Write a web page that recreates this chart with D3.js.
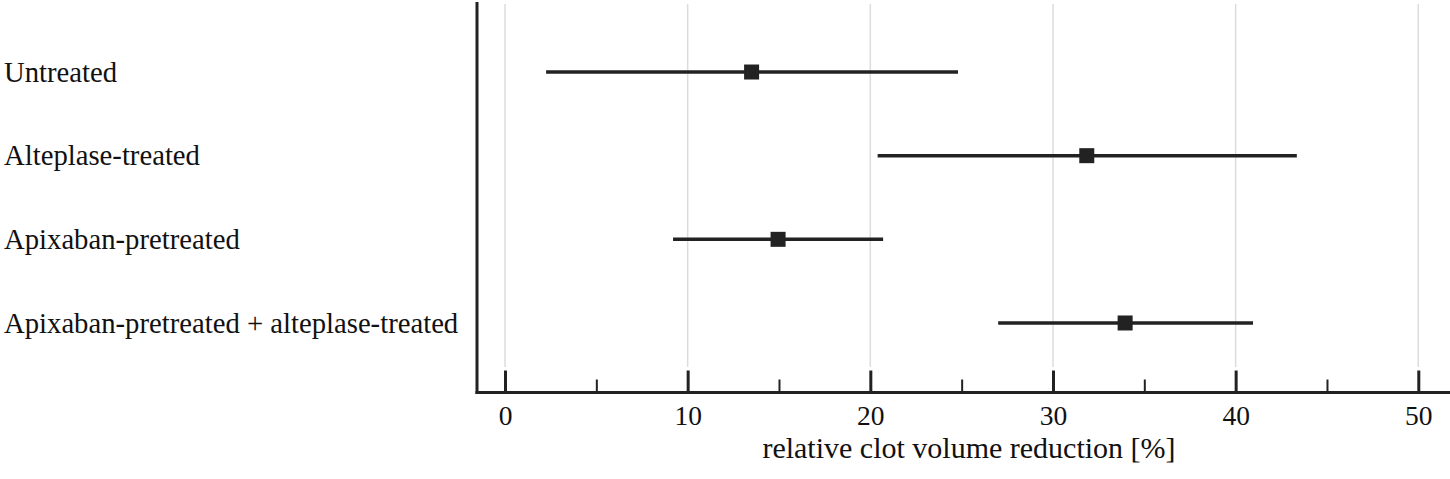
<!DOCTYPE html>
<html>
<head>
<meta charset="utf-8">
<script src="https://cdn.jsdelivr.net/npm/d3@7"></script>
<style>
  html, body { margin: 0; padding: 0; background: #fff; }
  svg { display: block; }
  svg text { font-family: "Liberation Serif", "Times New Roman", Times, "DejaVu Serif", serif; }
</style>
</head>
<body>
<svg id="chart" width="1450" height="479"></svg>
<script>
// Data
const categories = ["Untreated", "Alteplase-treated", "Apixaban-pretreated", "Apixaban-pretreated + alteplase-treated"];
const means = [13.5, 31.85, 14.95, 33.95];
const lows  = [2.25, 20.4, 9.2, 27.0];
const highs = [24.8, 43.35, 20.7, 40.95];
const majorTicks = [0, 10, 20, 30, 40, 50];
const minorTicks = [5, 15, 25, 35, 45];
const xTitle = "relative clot volume reduction [%]";

const serif = "'Liberation Serif', 'Times New Roman', Times, 'DejaVu Serif', serif";
const svg = d3.select("#chart");
const ink = "#222";

const x = d3.scaleLinear().domain([0, 50]).range([505, 1418.3]);
const y = d3.scalePoint().domain(categories).range([3, 392]).padding(0.825);

const axisY = 392.5;
const axisX = 477;

// gridlines
svg.append("g").selectAll("line").data(majorTicks).join("line")
  .attr("x1", d => x(d)).attr("x2", d => x(d))
  .attr("y1", 4).attr("y2", 367)
  .attr("stroke", "#dcdcdc").attr("stroke-width", 1.5);

// x axis via d3 axis (major ticks, inward)
const gx = svg.append("g").attr("transform", `translate(0,${axisY})`)
  .call(d3.axisBottom(x).tickValues(majorTicks).tickSize(-22).tickPadding(0).tickFormat(d3.format("d")));
gx.attr("font-family", null).attr("font-size", null);
gx.select(".domain").remove();
gx.selectAll(".tick line").attr("stroke", ink).attr("stroke-width", 3);
gx.selectAll(".tick text").attr("fill", "#111")
  .style("font-family", serif).style("font-size", "27.5px")
  .attr("dy", 0).attr("y", 32);

// minor ticks
const gm = svg.append("g").attr("transform", `translate(0,${axisY})`)
  .call(d3.axisBottom(x).tickValues(minorTicks).tickSize(-13).tickFormat(""));
gm.select(".domain").remove();
gm.selectAll(".tick line").attr("stroke", ink).attr("stroke-width", 2);

// axis lines
svg.append("line").attr("x1", axisX - 1.5).attr("x2", 1450).attr("y1", axisY).attr("y2", axisY)
  .attr("stroke", ink).attr("stroke-width", 3);
svg.append("line").attr("x1", axisX).attr("x2", axisX).attr("y1", 2).attr("y2", axisY + 1.5)
  .attr("stroke", ink).attr("stroke-width", 3);

// category labels
svg.append("g").selectAll("text").data(categories).join("text")
  .attr("x", 4).attr("y", d => y(d) + 9.8)
  .style("font-family", serif).style("font-size", "28.7px").attr("fill", "#111")
  .text(d => d);

// error bars
const rows = categories.map((c, i) => ({ c, m: means[i], lo: lows[i], hi: highs[i] }));
svg.append("g").selectAll("line").data(rows).join("line")
  .attr("x1", d => x(d.lo)).attr("x2", d => x(d.hi))
  .attr("y1", d => y(d.c)).attr("y2", d => y(d.c))
  .attr("stroke", ink).attr("stroke-width", 3.5);

const sq = 15;
svg.append("g").selectAll("rect").data(rows).join("rect")
  .attr("x", d => x(d.m) - sq / 2).attr("y", d => y(d.c) - sq / 2)
  .attr("width", sq).attr("height", sq).attr("fill", ink);

// axis title
svg.append("text").attr("x", 969).attr("y", 458)
  .attr("text-anchor", "middle")
  .style("font-family", serif).style("font-size", "30px").attr("fill", "#111")
  .text(xTitle);
</script>
</body>
</html>
